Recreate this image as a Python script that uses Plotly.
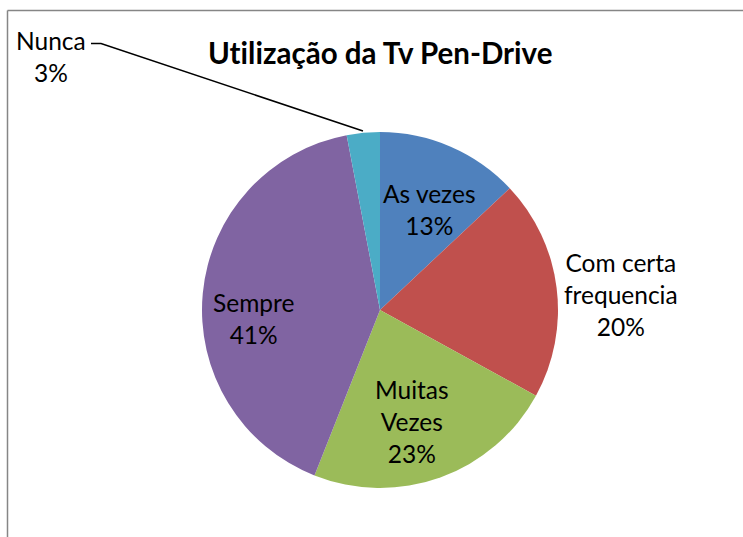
import plotly.graph_objects as go

categories = ["As vezes", "Com certa frequencia", "Muitas Vezes", "Sempre", "Nunca"]
label_text = ["As vezes", "Com certa<br>frequencia", "Muitas<br>Vezes", "Sempre", "Nunca"]
values = [13, 20, 23, 41, 3]
colors = ["#4F81BD", "#C0504D", "#9BBB59", "#8064A2", "#4BACC6"]
title = "Ut\u200cilização da Tv Pen-Drive"

W, H = 743, 537
def px(x):
    return x / W
def py(y):
    return 1 - y / H

cx, cy, r = 380, 310, 178
FONT = "Lato"

fig = go.Figure(go.Pie(
    labels=categories, values=values, sort=False, direction="clockwise",
    rotation=0, marker=dict(colors=colors, line=dict(width=0)),
    textinfo="none", hoverinfo="label+percent", showlegend=False,
    domain=dict(x=[px(cx - r), px(cx + r)], y=[py(cy + r), py(cy - r)]),
))

# label positions (pixel centres)
label_pos = [(429, 209), (621, 294), (412, 421), (253, 318), (51, 56)]
annotations = []
for lt, v, (lx, ly) in zip(label_text, values, label_pos):
    annotations.append(dict(
        x=px(lx), y=py(ly), xref="paper", yref="paper",
        text=f"{lt}<br>{v}%", showarrow=False, xanchor="center", yanchor="middle",
        font=dict(family=FONT, size=24.5, color="black"), align="center"))
annotations.append(dict(
    x=px(380), y=py(52), xref="paper", yref="paper", text=f"<b>{title}</b>",
    showarrow=False, xanchor="center", yanchor="middle",
    font=dict(family=FONT, size=29.5, color="black")))

shapes = [
    # chart border (left and top visible)
    dict(type="line", xref="paper", yref="paper", x0=px(7.5), y0=py(10.5), x1=px(7.5), y1=py(560),
         line=dict(color="#868686", width=1.5)),
    dict(type="line", xref="paper", yref="paper", x0=px(7.5), y0=py(10.5), x1=px(760), y1=py(10.5),
         line=dict(color="#868686", width=1.5)),
    # leader line for Nunca
    dict(type="path", xref="paper", yref="paper",
         path=f"M {px(91)},{py(43.5)} L {px(101)},{py(43.5)} L {px(363)},{py(131)}",
         line=dict(color="black", width=1.5)),
]

fig.update_layout(
    width=W, height=H, margin=dict(l=0, r=0, t=0, b=0),
    paper_bgcolor="white", plot_bgcolor="white",
    annotations=annotations, shapes=shapes,
)

fig.write_html("out.html", config={"displayModeBar": False},
               post_script="document.body.style.margin='0';document.body.style.padding='0';")
